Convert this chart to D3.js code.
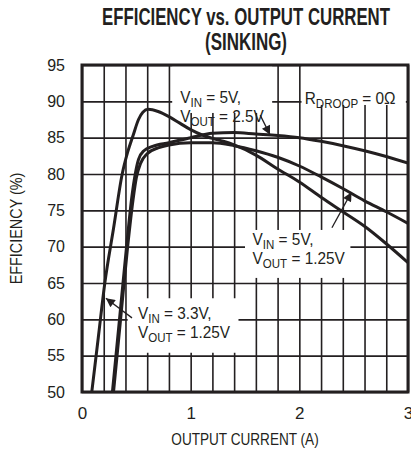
<!DOCTYPE html>
<html>
<head>
<meta charset="utf-8">
<script src="https://cdn.jsdelivr.net/npm/d3@7"></script>
<style>
  body { margin: 0; background: #fff; }
  svg { display: block; }
  text { font-family: 'Liberation Sans', Arial, sans-serif; fill: #231f20; }
</style>
</head>
<body>
<svg class="chart" width="411" height="453"></svg>
<script>
// curves (current in A, efficiency in %)
const vin33Current = [0.09, 0.15, 0.21, 0.29, 0.37, 0.42, 0.47, 0.52, 0.56, 0.61, 0.7, 0.8, 0.9, 1.0, 1.1, 1.2, 1.3, 1.4, 1.6, 1.8, 2.0, 2.2, 2.4, 2.6, 2.8, 3.0];
const vin33Eff     = [50, 57.5, 65, 72.5, 80, 83, 85.3, 87.5, 88.5, 88.9, 88.6, 87.9, 87.0, 86.1, 85.4, 84.9, 84.5, 84.0, 82.6, 80.7, 78.9, 76.8, 74.8, 72.8, 70.4, 67.8];

const vout25Current = [0.28, 0.345, 0.41, 0.46, 0.49, 0.52, 0.57, 0.65, 0.8, 1.0, 1.2, 1.4, 1.6, 1.8, 2.0, 2.2, 2.4, 2.6, 2.8, 3.0];
const vout25Eff     = [50, 60, 70, 77, 80, 82, 83.2, 83.8, 84.3, 85.0, 85.6, 85.7, 85.5, 85.3, 85.0, 84.5, 83.9, 83.2, 82.4, 81.5];

const vout125Current = [0.29, 0.355, 0.42, 0.47, 0.5, 0.54, 0.6, 0.7, 0.8, 1.0, 1.2, 1.4, 1.6, 1.8, 2.0, 2.2, 2.4, 2.6, 2.8, 3.0];
const vout125Eff     = [50, 60, 70, 76.5, 79.5, 81.5, 82.8, 83.6, 84.0, 84.3, 84.3, 83.9, 83.2, 82.3, 81.1, 79.6, 78.0, 76.3, 74.8, 73.2];

const xTickLabels = [0, 1, 2, 3];
const yTickLabels = [50, 55, 60, 65, 70, 75, 80, 85, 90, 95];

const svg = d3.select('.chart');
const margin = { top: 65, right: 3, bottom: 61, left: 82 };
const width = +svg.attr('width');
const height = +svg.attr('height');
const innerWidth = width - margin.left - margin.right;
const innerHeight = height - margin.top - margin.bottom;

const x = d3.scaleLinear().domain([0, 3]).range([margin.left, margin.left + innerWidth]);
const y = d3.scaleLinear().domain([50, 95]).range([margin.top + innerHeight, margin.top]);

// title
svg.append('text')
    .attr('x', 246).attr('y', 25)
    .attr('text-anchor', 'middle')
    .attr('textLength', 288).attr('lengthAdjust', 'spacingAndGlyphs')
    .style('font-size', '24px').style('font-weight', 'bold')
    .text('EFFICIENCY vs. OUTPUT CURRENT');
svg.append('text')
    .attr('x', 246).attr('y', 50)
    .attr('text-anchor', 'middle')
    .attr('textLength', 82).attr('lengthAdjust', 'spacingAndGlyphs')
    .style('font-size', '24px').style('font-weight', 'bold')
    .text('(SINKING)');

// grid lines (every 0.2 A and every 5 %)
const xGrid = svg.append('g')
    .attr('transform', `translate(0,${margin.top + innerHeight})`)
    .call(d3.axisBottom(x)
        .tickValues(d3.range(0, 3.001, 0.2))
        .tickSize(-innerHeight)
        .tickFormat(''));
xGrid.select('.domain').remove();
xGrid.selectAll('text').remove();
xGrid.selectAll('line').attr('stroke', '#231f20').attr('stroke-width', 1.6);

// x tick labels
const xAxis = svg.append('g')
    .attr('transform', `translate(0,${margin.top + innerHeight})`)
    .call(d3.axisBottom(x)
        .tickValues(xTickLabels)
        .tickSize(0)
        .tickPadding(15)
        .tickFormat(d3.format('d')));
xAxis.select('.domain').remove();
xAxis.selectAll('text').style('font-size', '17px').attr('fill', '#231f20');

const yAxis = svg.append('g')
    .attr('transform', `translate(${margin.left},0)`)
    .call(d3.axisLeft(y)
        .tickValues(yTickLabels)
        .tickSize(-innerWidth)
        .tickPadding(17));
yAxis.select('.domain').remove();
yAxis.selectAll('line').attr('stroke', '#231f20').attr('stroke-width', 1.6);
yAxis.selectAll('text').style('font-size', '16px').attr('fill', '#231f20');

// axis titles
svg.append('text')
    .attr('transform', 'translate(245,445) scale(0.85,1)')
    .attr('text-anchor', 'middle')
    .style('font-size', '16px')
    .text('OUTPUT CURRENT (A)');
svg.append('text')
    .attr('transform', `translate(22,${y(72.5)}) rotate(-90) scale(0.9,1)`)
    .attr('text-anchor', 'middle')
    .style('font-size', '16px')
    .text('EFFICIENCY (%)');

// white label boxes that hide the grid
const boxes = [
    { x0: 0.83, x1: 1.75, y0: 95, y1: 88.4 },
    { x0: 2.02, x1: 2.98, y0: 95, y1: 89.5 },
    { x0: 1.5, x1: 2.47, y0: 72.3, y1: 65.7 },
    { x0: 0.42, x1: 1.44, y0: 62.9, y1: 55.4 }
];
svg.append('g').selectAll('rect')
    .data(boxes)
    .join('rect')
    .attr('x', d => x(d.x0))
    .attr('y', d => y(d.y0))
    .attr('width', d => x(d.x1) - x(d.x0))
    .attr('height', d => y(d.y1) - y(d.y0))
    .attr('fill', '#fff');

// curves
svg.append('clipPath').attr('id', 'plotClip')
    .append('rect')
    .attr('x', margin.left).attr('y', margin.top)
    .attr('width', innerWidth).attr('height', innerHeight);

const line = d3.line()
    .x(d => x(d[0]))
    .y(d => y(d[1]))
    .curve(d3.curveMonotoneX);

const series = [
    d3.zip(vin33Current, vin33Eff),
    d3.zip(vout25Current, vout25Eff),
    d3.zip(vout125Current, vout125Eff)
];
svg.append('g')
    .attr('clip-path', 'url(#plotClip)')
    .selectAll('path')
    .data(series)
    .join('path')
    .attr('d', line)
    .attr('fill', 'none')
    .attr('stroke', '#231f20')
    .attr('stroke-width', 3);

// frame
svg.append('rect')
    .attr('x', margin.left).attr('y', margin.top)
    .attr('width', innerWidth).attr('height', innerHeight)
    .attr('fill', 'none')
    .attr('stroke', '#231f20')
    .attr('stroke-width', 3);

// labels with subscripts
function label(vx, ve, main, sub, rest) {
    const t = svg.append('text')
        .attr('transform', `translate(${x(vx)},${y(ve)}) scale(0.96,1)`)
        .style('font-size', '16px');
    t.append('tspan').text(main);
    t.append('tspan').attr('dy', 4).style('font-size', '12px').text(sub);
    t.append('tspan').attr('dy', -4).text(rest);
}
label(0.904, 89.8, 'V', 'IN', ' = 5V,');
label(0.904, 87.1, 'V', 'OUT', ' = 2.5V');
label(2.05, 89.7, 'R', 'DROOP', ' = 0Ω');
label(1.57, 70.2, 'V', 'IN', ' = 5V,');
label(1.57, 67.6, 'V', 'OUT', ' = 1.25V');
label(0.515, 60.1, 'V', 'IN', ' = 3.3V,');
label(0.515, 57.4, 'V', 'OUT', ' = 1.25V');

// arrows
svg.append('defs').append('marker')
    .attr('id', 'head')
    .attr('viewBox', '0 0 10 10')
    .attr('refX', 10).attr('refY', 5)
    .attr('markerWidth', 12).attr('markerHeight', 9)
    .attr('markerUnits', 'userSpaceOnUse')
    .attr('orient', 'auto')
    .append('path')
    .attr('d', 'M0,0 L10,5 L0,10 Z')
    .attr('fill', '#231f20');

const arrows = [
    { from: [1.64, 88.1], to: [1.73, 85.4] },
    { from: [2.30, 72.6], to: [2.48, 77.5] },
    { from: [0.46, 60.2], to: [0.22, 62.9] }
];
svg.append('g').selectAll('line')
    .data(arrows)
    .join('line')
    .attr('x1', d => x(d.from[0])).attr('y1', d => y(d.from[1]))
    .attr('x2', d => x(d.to[0])).attr('y2', d => y(d.to[1]))
    .attr('stroke', '#231f20')
    .attr('stroke-width', 1.3)
    .attr('marker-end', 'url(#head)');
</script>
</body>
</html>
